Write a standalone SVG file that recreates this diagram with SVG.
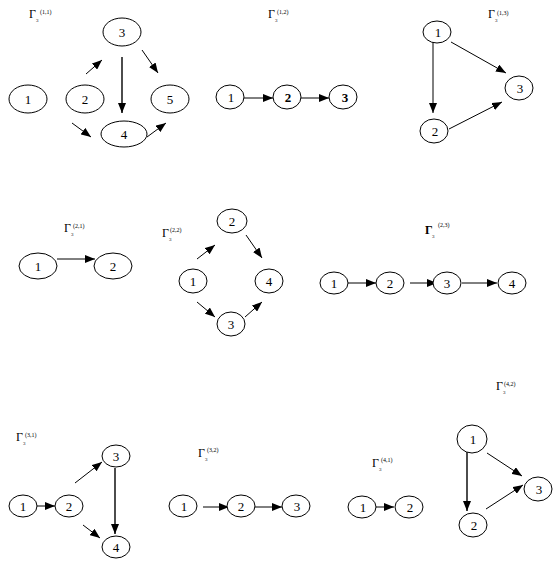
<svg xmlns="http://www.w3.org/2000/svg" width="553" height="565" viewBox="0 0 553 565">
<style>
.n ellipse{fill:#fff;stroke:#000;stroke-width:1}
.n text{font-family:"Liberation Serif",serif;font-size:13px;text-anchor:middle;fill:#000}
.b text{font-weight:bold}
.e line{stroke:#000;stroke-width:1;fill:none;marker-end:url(#ah)}
.e line.t{stroke-width:1.4}
.g{font-family:"Liberation Serif",serif;fill:#000}
.g .G{font-size:12px}
.g .s{font-size:5px}
.g .p{font-size:6px}
</style>
<defs>
<marker id="ah" markerUnits="userSpaceOnUse" markerWidth="10" markerHeight="8" refX="10" refY="4" orient="auto">
<path d="M0,0 L10,4 L0,8 z" fill="#000"/>
</marker>
</defs>
<rect width="553" height="565" fill="#fff"/>

<g id="labels" class="g">
<text x="29" y="18" class="G">Γ</text><text x="36" y="22" class="s">3</text><text x="40" y="14" class="p">(1,1)</text>
<text x="268" y="18" class="G">Γ</text><text x="275" y="22" class="s">3</text><text x="277" y="14" class="p">(1,2)</text>
<text x="488" y="18" class="G">Γ</text><text x="495" y="22" class="s">3</text><text x="497" y="15" class="p">(1,3)</text>
<text x="64" y="232" class="G">Γ</text><text x="71" y="236" class="s">3</text><text x="73" y="228" class="p">(2,1)</text>
<text x="162" y="237" class="G">Γ</text><text x="169" y="241" class="s">3</text><text x="170" y="232" class="p">(2,2)</text>
<text x="425" y="234" class="G" font-weight="bold">Γ</text><text x="432" y="238" class="s">3</text><text x="438" y="227" class="p">(2,3)</text>
<text x="16" y="441" class="G">Γ</text><text x="23" y="445" class="s">3</text><text x="25" y="437" class="p">(3,1)</text>
<text x="198" y="457" class="G">Γ</text><text x="205" y="461" class="s">3</text><text x="207" y="452" class="p">(3,2)</text>
<text x="372" y="467" class="G">Γ</text><text x="379" y="471" class="s">3</text><text x="381" y="462" class="p">(4,1)</text>
<text x="496" y="390" class="G">Γ</text><text x="503" y="394" class="s">3</text><text x="504" y="386" class="p">(4,2)</text>
</g>

<g id="connectors" class="e">
<!-- G(1,1) -->
<line x1="86" y1="74" x2="102" y2="60"/>
<line class="t" x1="122" y1="57" x2="122" y2="113"/>
<line x1="142" y1="50" x2="158" y2="73"/>
<line x1="72" y1="123" x2="91" y2="137"/>
<line x1="147" y1="137" x2="166" y2="123"/>
<!-- G(1,2) -->
<line x1="244" y1="98" x2="273" y2="98"/>
<line x1="301" y1="98" x2="329" y2="98"/>
<!-- G(1,3) -->
<line x1="433" y1="41" x2="433" y2="113"/>
<line x1="451" y1="42" x2="506" y2="73"/>
<line x1="449" y1="129" x2="502" y2="102"/>
<!-- G(2,1) -->
<line x1="57" y1="259" x2="95" y2="259"/>
<!-- G(2,2) -->
<line x1="197" y1="259" x2="215" y2="245"/>
<line x1="246" y1="235" x2="262" y2="258"/>
<line x1="197" y1="302" x2="215" y2="317"/>
<line x1="245" y1="317" x2="262" y2="302"/>
<!-- G(2,3) -->
<line x1="348" y1="283" x2="376" y2="283"/>
<line x1="410" y1="283" x2="437" y2="283"/>
<line x1="462" y1="283" x2="497" y2="283"/>
<!-- G(3,1) -->
<line x1="37" y1="506" x2="55" y2="506"/>
<line x1="75" y1="483" x2="102" y2="462"/>
<line class="t" x1="115" y1="468" x2="115" y2="534"/>
<line x1="83" y1="525" x2="100" y2="538"/>
<!-- G(3,2) -->
<line x1="203" y1="507" x2="229" y2="507"/>
<line x1="255" y1="507" x2="282" y2="507"/>
<!-- G(4,1) -->
<line x1="372" y1="507" x2="394" y2="507"/>
<!-- G(4,2) -->
<line class="t" x1="467" y1="452" x2="467" y2="511"/>
<line x1="487" y1="453" x2="522" y2="476"/>
<line x1="486" y1="509" x2="523" y2="485"/>
</g>

<!-- G(1,1) nodes -->
<g id="g11n1" class="n"><ellipse cx="28" cy="99" rx="19" ry="14"/><text x="28" y="104">1</text></g>
<g id="g11n2" class="n"><ellipse cx="85" cy="99" rx="19" ry="14"/><text x="85" y="104">2</text></g>
<g id="g11n3" class="n"><ellipse cx="122" cy="32" rx="19" ry="14"/><text x="122" y="37">3</text></g>
<g id="g11n4" class="n"><ellipse cx="124" cy="134" rx="23" ry="13"/><text x="124" y="139">4</text></g>
<g id="g11n5" class="n"><ellipse cx="170" cy="99" rx="19" ry="14"/><text x="170" y="104">5</text></g>
<!-- G(1,2) -->
<g id="g12n1" class="n"><ellipse cx="230" cy="97" rx="14" ry="12"/><text x="231" y="102">1</text></g>
<g id="g12n2" class="n b"><ellipse cx="287" cy="97" rx="14" ry="12"/><text x="288" y="102">2</text></g>
<g id="g12n3" class="n b"><ellipse cx="343" cy="97" rx="14" ry="12"/><text x="345" y="102">3</text></g>
<!-- G(1,3) -->
<g id="g13n1" class="n"><ellipse cx="437" cy="32" rx="14" ry="11"/><text x="438" y="37">1</text></g>
<g id="g13n2" class="n"><ellipse cx="434" cy="131" rx="14" ry="12"/><text x="435" y="136">2</text></g>
<g id="g13n3" class="n"><ellipse cx="519" cy="88" rx="14" ry="12"/><text x="520" y="93">3</text></g>
<!-- G(2,1) -->
<g id="g21n1" class="n"><ellipse cx="38" cy="266" rx="19" ry="13"/><text x="38" y="271">1</text></g>
<g id="g21n2" class="n"><ellipse cx="113" cy="266" rx="19" ry="13"/><text x="113" y="271">2</text></g>
<!-- G(2,2) -->
<g id="g22n1" class="n"><ellipse cx="193" cy="281" rx="14" ry="12"/><text x="193" y="286">1</text></g>
<g id="g22n2" class="n"><ellipse cx="232" cy="221" rx="15" ry="12"/><text x="232" y="226">2</text></g>
<g id="g22n3" class="n"><ellipse cx="231" cy="324" rx="14" ry="12"/><text x="231" y="329">3</text></g>
<g id="g22n4" class="n"><ellipse cx="269" cy="281" rx="14" ry="12"/><text x="269" y="286">4</text></g>
<!-- G(2,3) -->
<g id="g23n1" class="n"><ellipse cx="334" cy="283" rx="14" ry="11"/><text x="334" y="288">1</text></g>
<g id="g23n2" class="n"><ellipse cx="390" cy="283" rx="14" ry="11"/><text x="390" y="288">2</text></g>
<g id="g23n3" class="n"><ellipse cx="447" cy="283" rx="14" ry="11"/><text x="447" y="288">3</text></g>
<g id="g23n4" class="n"><ellipse cx="512" cy="283" rx="14" ry="11"/><text x="512" y="288">4</text></g>
<!-- G(3,1) -->
<g id="g31n1" class="n"><ellipse cx="23" cy="506" rx="14" ry="11"/><text x="23" y="511">1</text></g>
<g id="g31n2" class="n"><ellipse cx="69" cy="506" rx="14" ry="11"/><text x="69" y="511">2</text></g>
<g id="g31n3" class="n"><ellipse cx="116" cy="456" rx="14" ry="11"/><text x="116" y="461">3</text></g>
<g id="g31n4" class="n"><ellipse cx="116" cy="547" rx="14" ry="11"/><text x="116" y="552">4</text></g>
<!-- G(3,2) -->
<g id="g32n1" class="n"><ellipse cx="183" cy="506" rx="14" ry="11"/><text x="184" y="511">1</text></g>
<g id="g32n2" class="n"><ellipse cx="241" cy="506" rx="14" ry="11"/><text x="241" y="511">2</text></g>
<g id="g32n3" class="n"><ellipse cx="296" cy="506" rx="14" ry="11"/><text x="297" y="511">3</text></g>
<!-- G(4,1) -->
<g id="g41n1" class="n"><ellipse cx="362" cy="507" rx="14" ry="11"/><text x="363" y="512">1</text></g>
<g id="g41n2" class="n"><ellipse cx="409" cy="507" rx="14" ry="11"/><text x="410" y="512">2</text></g>
<!-- G(4,2) -->
<g id="g42n1" class="n"><ellipse cx="472" cy="439" rx="15" ry="14"/><text x="473" y="444">1</text></g>
<g id="g42n2" class="n"><ellipse cx="473" cy="525" rx="14" ry="12"/><text x="474" y="530">2</text></g>
<g id="g42n3" class="n"><ellipse cx="538" cy="489" rx="14" ry="12"/><text x="539" y="494">3</text></g>
</svg>
